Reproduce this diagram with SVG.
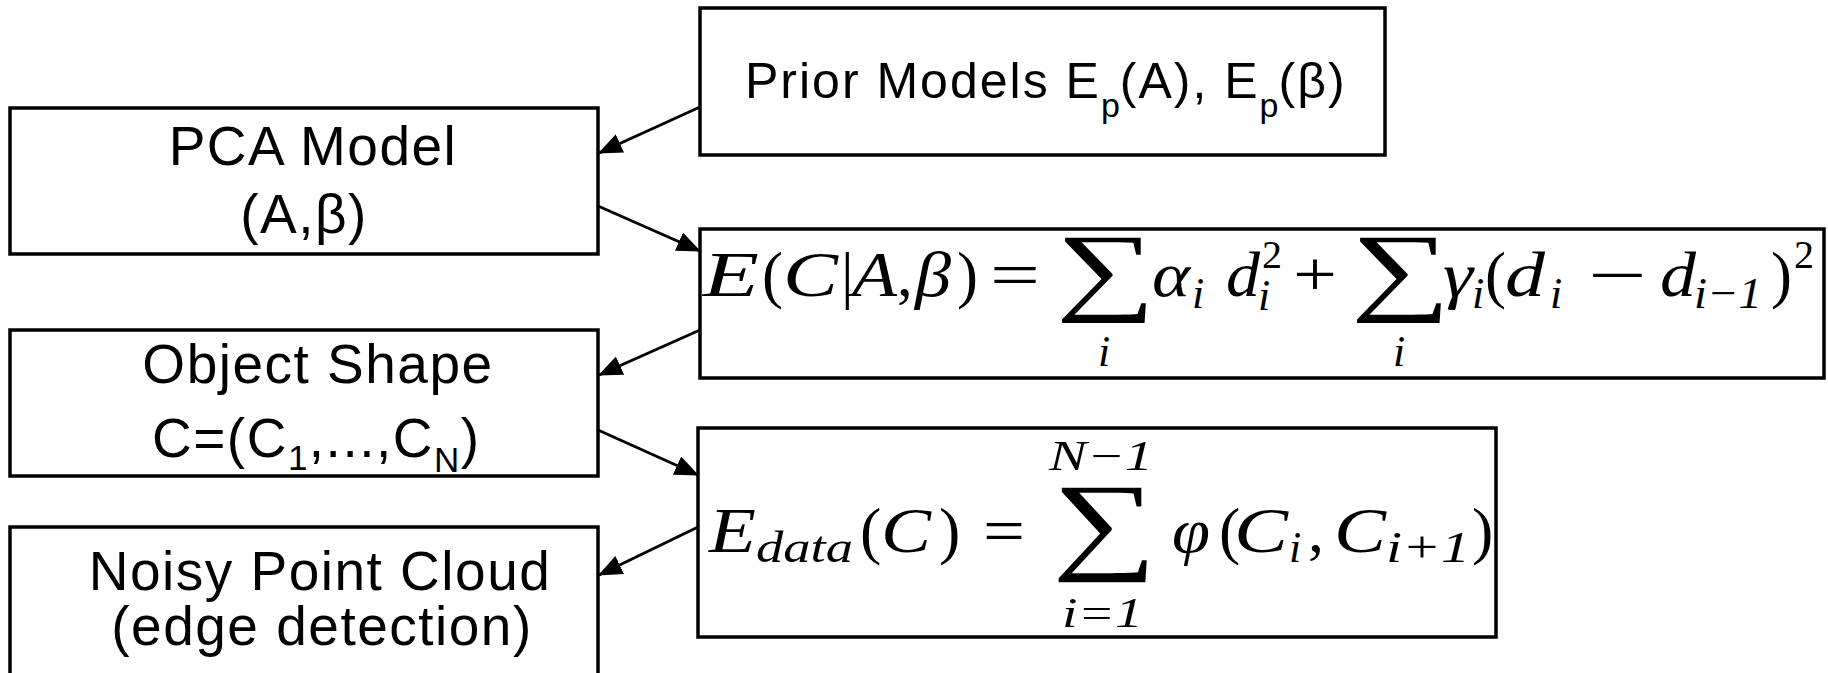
<svg xmlns="http://www.w3.org/2000/svg" width="1828" height="673" viewBox="0 0 1828 673">
<style>
.box{fill:#fff;stroke:#000;stroke-width:3.5}
.lbl{font-family:"Liberation Sans",Arial,sans-serif;font-size:55px;letter-spacing:1.5px;fill:#000}
.pr{font-family:"Liberation Sans",Arial,sans-serif;font-size:50px;letter-spacing:2px;fill:#000}
.mi{font-family:"Liberation Serif","Times New Roman",serif;font-style:italic;fill:#000}
.mr{font-family:"Liberation Serif","Times New Roman",serif;fill:#000}
.sum{font-family:"Liberation Serif","Times New Roman",serif;fill:#000}
.conn{stroke:#000;stroke-width:3;fill:none}
</style>
<defs>
<marker id="ah" markerUnits="userSpaceOnUse" viewBox="0 0 24 20" markerWidth="24" markerHeight="20" refX="23" refY="10" orient="auto">
<path d="M0,0 L24,10 L0,20 z" fill="#000"/>
</marker>
</defs>
<rect width="1828" height="673" fill="#fff"/>

<g id="node-prior">
<rect class="box" x="700" y="8" width="685" height="147"/>
<text class="pr" x="745" y="98">Prior Models E<tspan font-size="34" dy="19" letter-spacing="0">p</tspan><tspan dy="-19">(A), E</tspan><tspan font-size="34" dy="19" letter-spacing="0">p</tspan><tspan dy="-19">(β)</tspan></text>
</g>

<g id="node-pca">
<rect class="box" x="10" y="108" width="588" height="146"/>
<text class="lbl" x="313" y="165" text-anchor="middle">PCA Model</text>
<text class="lbl" x="304" y="233" text-anchor="middle">(A,β)</text>
</g>

<g id="node-energy">
<rect class="box" x="700" y="229" width="1124" height="149"/>
<g font-size="63">
<text class="mi" x="703" y="296" textLength="56" lengthAdjust="spacingAndGlyphs">E</text>
<text class="mr" x="762" y="296">(</text>
<text class="mi" x="783" y="296" textLength="55" lengthAdjust="spacingAndGlyphs">C</text>
<text class="mr" x="841" y="296">|</text>
<text class="mi" x="852" y="296" textLength="45" lengthAdjust="spacingAndGlyphs">A</text>
<text class="mr" x="897" y="296">,</text>
<text class="mi" x="915" y="296" textLength="36" lengthAdjust="spacingAndGlyphs">β</text>
<text class="mr" x="957" y="296">)</text>
<text class="mr" x="990" y="296" textLength="50" lengthAdjust="spacingAndGlyphs">=</text>
<text class="sum" x="1056" y="302" font-size="98" textLength="100" lengthAdjust="spacingAndGlyphs">∑</text>
<text class="mi" x="1098" y="366" font-size="44">i</text>
<text class="mi" x="1152" y="296" textLength="38" lengthAdjust="spacingAndGlyphs">α</text>
<text class="mi" x="1192" y="308" font-size="44">i</text>
<text class="mi" x="1226" y="296" textLength="34" lengthAdjust="spacingAndGlyphs">d</text>
<text class="mr" x="1262" y="268" font-size="40">2</text>
<text class="mi" x="1258" y="310" font-size="44">i</text>
<text class="mr" x="1293" y="296" textLength="44" lengthAdjust="spacingAndGlyphs">+</text>
<text class="sum" x="1351" y="302" font-size="98" textLength="100" lengthAdjust="spacingAndGlyphs">∑</text>
<text class="mi" x="1393" y="366" font-size="44">i</text>
<text class="mi" x="1443" y="296" textLength="30" lengthAdjust="spacingAndGlyphs">γ</text>
<text class="mi" x="1472" y="308" font-size="44">i</text>
<text class="mr" x="1485" y="296">(</text>
<text class="mi" x="1505" y="296" textLength="40" lengthAdjust="spacingAndGlyphs">d</text>
<text class="mi" x="1550" y="308" font-size="44">i</text>
<text class="mr" x="1588" y="296" textLength="59" lengthAdjust="spacingAndGlyphs">−</text>
<text class="mi" x="1660" y="296" textLength="36" lengthAdjust="spacingAndGlyphs">d</text>
<text class="mi" x="1694" y="308" font-size="44" textLength="68" lengthAdjust="spacingAndGlyphs">i−1</text>
<text class="mr" x="1771" y="296">)</text>
<text class="mr" x="1794" y="268" font-size="40">2</text>
</g>
</g>

<g id="node-shape">
<rect class="box" x="10" y="330" width="588" height="146"/>
<text class="lbl" x="318" y="383" text-anchor="middle">Object Shape</text>
<text class="lbl" x="152" y="457" letter-spacing="0">C=(C<tspan font-size="35" dy="13">1</tspan><tspan dy="-13">,...,C</tspan><tspan font-size="35" dy="15">N</tspan><tspan dy="-15">)</tspan></text>
</g>

<g id="node-data">
<rect class="box" x="698" y="428" width="798" height="209"/>
<g font-size="64">
<text class="mi" x="709" y="552" textLength="47" lengthAdjust="spacingAndGlyphs">E</text>
<text class="mi" x="756" y="562" font-size="44" textLength="97" lengthAdjust="spacingAndGlyphs">data</text>
<text class="mr" x="860" y="552">(</text>
<text class="mi" x="881" y="552" textLength="50" lengthAdjust="spacingAndGlyphs">C</text>
<text class="mr" x="939" y="552">)</text>
<text class="mr" x="983" y="552" textLength="42" lengthAdjust="spacingAndGlyphs">=</text>
<text class="mi" x="1049" y="470" font-size="42" textLength="104" lengthAdjust="spacingAndGlyphs">N−1</text>
<text class="sum" x="1052" y="559" font-size="109" textLength="105" lengthAdjust="spacingAndGlyphs">∑</text>
<text class="mi" x="1062" y="627" font-size="42" textLength="81" lengthAdjust="spacingAndGlyphs">i=1</text>
<text class="mi" x="1172" y="552" textLength="38" lengthAdjust="spacingAndGlyphs">φ</text>
<text class="mr" x="1219" y="552">(</text>
<text class="mi" x="1234" y="552" textLength="54" lengthAdjust="spacingAndGlyphs">C</text>
<text class="mi" x="1289" y="562" font-size="44">i</text>
<text class="mr" x="1308" y="552">,</text>
<text class="mi" x="1334" y="552" textLength="52" lengthAdjust="spacingAndGlyphs">C</text>
<text class="mi" x="1386" y="562" font-size="44" textLength="84" lengthAdjust="spacingAndGlyphs">i+1</text>
<text class="mr" x="1472" y="552">)</text>
</g>
</g>

<g id="node-cloud">
<rect class="box" x="10" y="527" width="588" height="160"/>
<text class="lbl" x="320" y="590" text-anchor="middle">Noisy Point Cloud</text>
<text class="lbl" x="322" y="645" text-anchor="middle">(edge detection)</text>
</g>

<g id="connectors">
<line class="conn" x1="700" y1="107" x2="599" y2="153" marker-end="url(#ah)"/>
<line class="conn" x1="598" y1="206" x2="700" y2="251" marker-end="url(#ah)"/>
<line class="conn" x1="700" y1="330" x2="599" y2="375" marker-end="url(#ah)"/>
<line class="conn" x1="598" y1="430" x2="698" y2="475" marker-end="url(#ah)"/>
<line class="conn" x1="698" y1="527" x2="599" y2="575" marker-end="url(#ah)"/>
</g>
</svg>
